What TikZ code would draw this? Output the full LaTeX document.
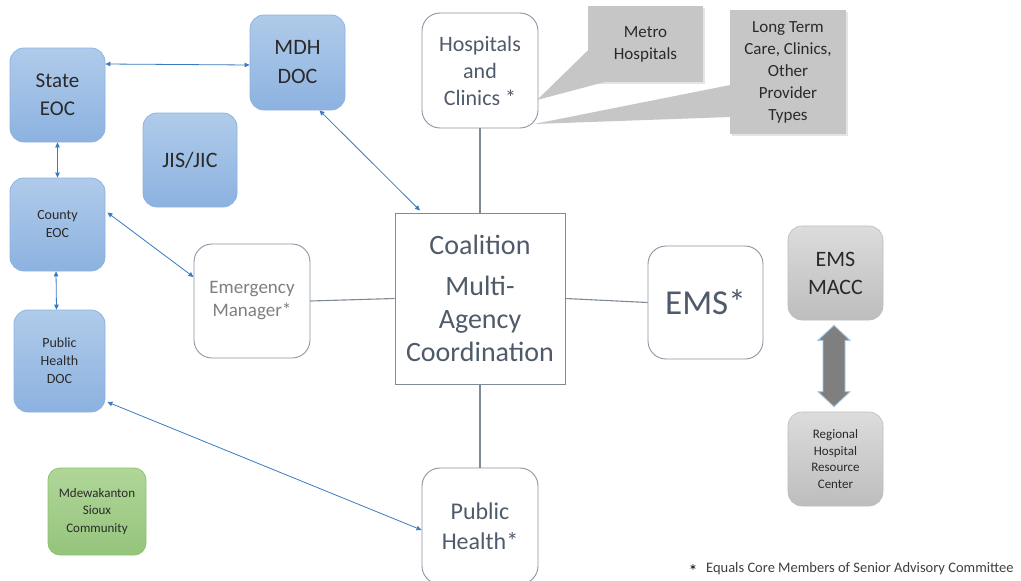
\documentclass[tikz,border=0pt]{standalone}
\usepackage{fontspec}
\setmainfont{Carlito}
\usetikzlibrary{arrows.meta,shadows,calc}
\definecolor{bluetop}{HTML}{B0CBEA}
\definecolor{bluebot}{HTML}{8CB2E0}
\definecolor{bluedge}{HTML}{8DB3E2}
\definecolor{bluetext}{HTML}{2A2A2A}
\definecolor{greytop}{HTML}{DCDCDC}
\definecolor{greybot}{HTML}{BDBDBD}
\definecolor{greentop}{HTML}{B0D698}
\definecolor{greenbot}{HTML}{95C47C}
\definecolor{greenedge}{HTML}{8DC26F}
\definecolor{wtext}{HTML}{4F5B6A}
\definecolor{wedge}{HTML}{8A95A2}
\definecolor{linegrey}{HTML}{7F8A96}
\definecolor{conblue}{HTML}{3A7BC0}
\definecolor{callgrey}{HTML}{C6C6C6}
\definecolor{arrowgrey}{HTML}{7F7F7F}
\definecolor{arrowedge}{HTML}{A5C8E8}
\begin{document}
\begin{tikzpicture}[x=1pt,y=-1pt,
  bluebox/.style={draw=bluedge, line width=0.8pt, rounded corners=14pt, top color=bluetop, bottom color=bluebot, align=center, inner sep=0pt, text=bluetext},
  greybox/.style={draw=greybot, line width=0.6pt, rounded corners=14pt, top color=greytop, bottom color=greybot, align=center, inner sep=0pt, text=bluetext},
  greenbox/.style={draw=greenedge, line width=0.8pt, rounded corners=12pt, top color=greentop, bottom color=greenbot, align=center, inner sep=0pt, text=bluetext},
  whitebox/.style={draw=wedge, line width=0.9pt, rounded corners=18pt, fill=white, align=center, inner sep=0pt, text=wtext, minimum width=116pt, minimum height=115pt},
  callbox/.style={fill=callgrey, align=center, inner sep=0pt, text=bluetext, drop shadow={opacity=0.2, shadow xshift=1.5pt, shadow yshift=-1.5pt}},
  bluecon/.style={draw=conblue, line width=0.8pt, {Triangle[length=5pt,width=4.5pt]}-{Triangle[length=5pt,width=4.5pt]}},
  greycon/.style={draw=linegrey, line width=1.1pt}
]
\useasboundingbox (0,0) rectangle (1021,581);
\clip (0,0) rectangle (1021,581);
\fill[white] (0,0) rectangle (1021,581);

% blue boxes
\node[bluebox, minimum width=95pt, minimum height=94pt, font=\fontsize{21}{28}\selectfont] (state) at (57.5,95) {State\\EOC};
\node[bluebox, minimum width=95pt, minimum height=95pt, font=\fontsize{22}{29}\selectfont] (mdh) at (297.5,62.5) {MDH\\DOC};
\node[bluebox, minimum width=94pt, minimum height=94pt, font=\fontsize{22}{28}\selectfont] (jis) at (190,160) {JIS/JIC};
\node[bluebox, minimum width=95pt, minimum height=93pt, font=\fontsize{14}{18}\selectfont] (county) at (57.5,224.5) {County\\EOC};
\node[bluebox, minimum width=91pt, minimum height=102pt, font=\fontsize{14}{18}\selectfont] (phdoc) at (59.5,361) {Public\\Health\\DOC};
\node[greenbox, minimum width=98pt, minimum height=87pt, font=\fontsize{13}{17.5}\selectfont] (sioux) at (97,511.5) {Mdewakanton\\Sioux\\Community};

% grey boxes right
\node[greybox, minimum width=95pt, minimum height=94pt, font=\fontsize{22}{28}\selectfont] (macc) at (835.5,273) {EMS\\MACC};
\node[greybox, minimum width=95pt, minimum height=94pt, font=\fontsize{13}{16.7}\selectfont] (rhrc) at (835.5,459) {Regional\\Hospital\\Resource\\Center};

% white boxes
\node[whitebox, font=\fontsize{22}{27}\selectfont] (hosp) at (480,70.5) {Hospitals\\and\\Clinics *};
\node[whitebox, minimum height=114pt, text=arrowgrey, font=\fontsize{19}{23}\selectfont] (em) at (252,301) {Emergency\\Manager*};
\node[whitebox, minimum width=115pt, minimum height=113pt, font=\fontsize{35}{40}\selectfont] (ems) at (705.5,302.5) {EMS*};
\node[whitebox, minimum height=116pt, font=\fontsize{24}{30}\selectfont] (ph) at (480,526) {Public\\Health*};
\node[draw=linegrey, line width=1pt, fill=white, minimum width=170pt, minimum height=171pt, inner sep=0pt, align=center, text=wtext, font=\fontsize{28}{33}\selectfont] (coal) at (480,298.5) {Coalition\\[8pt]Multi-\\Agency\\Coordination};

% callouts
\coordinate (tipa) at (537,100);
\coordinate (tipb) at (534,124);
\node[callbox, minimum width=115pt, minimum height=76pt, font=\fontsize{17}{22}\selectfont] (metro) at (645.5,44) {Metro\\Hospitals};
\node[callbox, minimum width=116pt, minimum height=124pt, font=\fontsize{17}{22}\selectfont] (ltc) at (788,72) {Long Term\\Care, Clinics,\\Other\\Provider\\Types};
\fill[callgrey] ([yshift=-6pt,xshift=0.5pt]metro.west) -- (tipa) -- ([xshift=18pt,yshift=0.5pt]metro.south west) -- cycle;
\fill[callgrey] ([yshift=-13pt,xshift=0.5pt]ltc.west) -- (tipb) -- ([yshift=-45pt,xshift=0.5pt]ltc.west) -- cycle;

% grey connectors
\draw[greycon] (hosp.south) -- (coal.north);
\draw[greycon] (em.east) -- (coal.west);
\draw[greycon] (coal.east) -- (ems.west);
\draw[greycon] (coal.south) -- (ph.north);

% blue connectors
\draw[bluecon] ([yshift=31pt]state.east) -- ([yshift=-2.5pt]mdh.west);
\draw[bluecon] (state.south) -- (county.north);
\draw[bluecon] ([xshift=-1.5pt]county.south) -- ([xshift=-3pt]phdoc.north);
\draw[bluecon] ([yshift=12pt,xshift=2pt]county.east) -- ([yshift=24pt]em.west);
\draw[bluecon] ([xshift=22pt]mdh.south) -- ([xshift=-60pt,yshift=2pt]coal.north);
\draw[bluecon] ([yshift=-41pt,xshift=2pt]phdoc.east) -- ([yshift=-4pt]ph.west);

% big double arrow between EMS MACC and Regional center
\coordinate (at) at ($(macc.south)+(-1.5,5)$);
\coordinate (ab) at ($(rhrc.north)+(-1.5,-5)$);
\draw[draw=arrowedge, fill=arrowgrey, line width=0.9pt, line join=miter]
  (at) -- ++(16,15) -- ++(-5,0) |- ($(ab)+(11,-15)$) -- ++(5,0) -- (ab) -- ++(-16,-15) -- ++(5,0) |- ($(at)+(-11,15)$) -- ++(-5,0) -- cycle;

% footnote
\node[anchor=base, font=\fontsize{18}{18}\selectfont, text=black] (star) at (693,577) {*};
\node[anchor=base west, inner sep=0pt, font=\fontsize{14.5}{16}\selectfont, text=black!75] (foot) at (706,572) {Equals Core Members of Senior Advisory Committee};
\end{tikzpicture}
\end{document}
